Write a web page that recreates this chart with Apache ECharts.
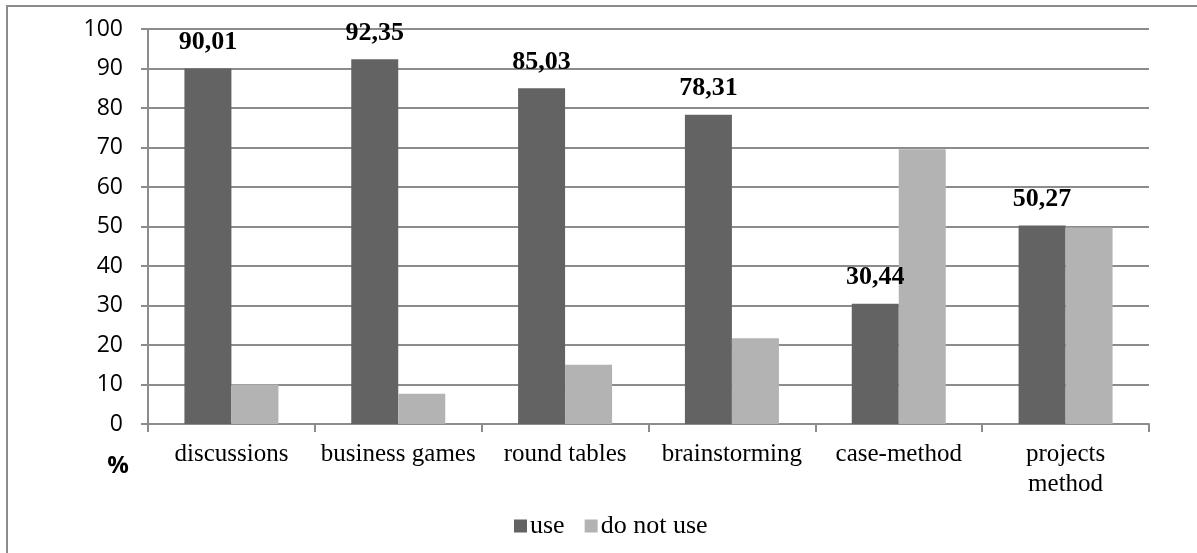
<!DOCTYPE html>
<html>
<head>
<meta charset="utf-8">
<script src="https://cdn.jsdelivr.net/npm/echarts@6/dist/echarts.min.js"></script>
<style>
  html, body { margin: 0; padding: 0; background: #fff; }
  #chart { width: 1197px; height: 553px; }
</style>
</head>
<body>
<div id="chart"></div>
<script>
// Teaching methods and the share of respondents who use / do not use them (%)
const categories = ['discussions', 'business games', 'round tables', 'brainstorming', 'case-method', 'projects\nmethod'];
const useValues = [90.01, 92.35, 85.03, 78.31, 30.44, 50.27];
const notUseValues = [9.99, 7.65, 14.97, 21.69, 69.56, 49.73];
const yTicks = { min: 0, max: 100, interval: 10 };
const seriesNames = ['use', 'do not use'];
const unitLabel = '%';

const gridColor = '#8c8c8c';
const serif = '"Liberation Serif", "Times New Roman", serif';
const sans = '"Open Sans", "Liberation Sans", sans-serif';

const chart = echarts.init(document.getElementById('chart'), null, { renderer: 'canvas' });

chart.setOption({
  animation: false,
  backgroundColor: '#ffffff',
  grid: { left: 148, right: 48, top: 29, bottom: 129, containLabel: false },
  legend: {
    left: 509,
    top: 508,
    itemWidth: 13,
    itemHeight: 13,
    itemGap: 20,
    icon: 'rect',
    textStyle: { fontFamily: serif, fontSize: 26, color: '#000', padding: [0, 0, 0, -2] },
    data: seriesNames
  },
  xAxis: {
    type: 'category',
    data: categories,
    axisLine: { show: true, lineStyle: { color: gridColor, width: 2 } },
    axisTick: { show: true, length: 8, alignWithLabel: false, lineStyle: { color: gridColor, width: 2 } },
    axisLabel: {
      interval: 0,
      margin: 15,
      fontFamily: serif,
      fontSize: 25,
      lineHeight: 30,
      color: '#000'
    }
  },
  yAxis: {
    type: 'value',
    min: yTicks.min,
    max: yTicks.max,
    interval: yTicks.interval,
    axisLine: { show: true, lineStyle: { color: gridColor, width: 2 } },
    axisTick: { show: true, length: 7, lineStyle: { color: gridColor, width: 2 } },
    axisLabel: { margin: 25, fontFamily: sans, fontSize: 23, color: '#000' },
    splitLine: { show: true, lineStyle: { color: gridColor, width: 2 } }
  },
  series: [
    {
      name: seriesNames[0],
      type: 'bar',
      data: useValues,
      barWidth: 47,
      barGap: '0%',
      itemStyle: { color: '#636363' },
      label: {
        show: true,
        position: 'top',
        distance: 13,
        fontFamily: serif,
        fontSize: 26,
        fontWeight: 'bold',
        color: '#000',
        formatter: p => p.value.toFixed(2).replace('.', ',')
      }
    },
    {
      name: seriesNames[1],
      type: 'bar',
      data: notUseValues,
      barWidth: 47,
      barGap: '0%',
      itemStyle: { color: '#b3b3b3' }
    }
  ],
  graphic: [
    {
      type: 'rect',
      silent: true,
      z: -1,
      shape: { x: 7, y: 6, width: 1300, height: 700 },
      style: { fill: 'none', stroke: gridColor, lineWidth: 2 }
    },
    {
      type: 'text',
      silent: true,
      x: 118,
      y: 466,
      style: {
        text: unitLabel,
        fontFamily: sans,
        fontSize: 24,
        fontWeight: 'bold',
        fill: '#000',
        align: 'center',
        verticalAlign: 'middle'
      }
    }
  ]
});
</script>
</body>
</html>
